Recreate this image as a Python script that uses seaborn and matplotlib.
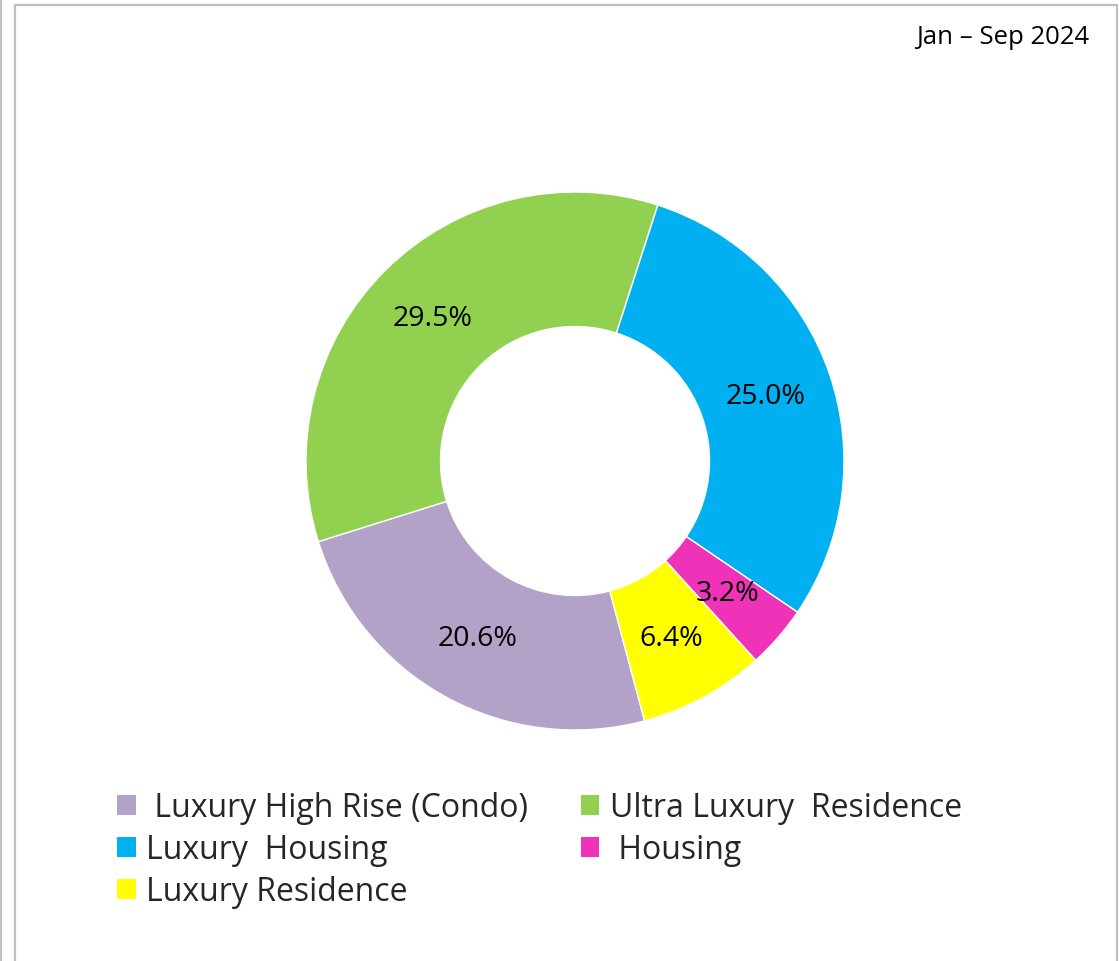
import matplotlib
matplotlib.use("Agg")
import matplotlib.pyplot as plt
from matplotlib.patches import Patch, Rectangle
import seaborn as sns

# Share of sales by segment, Jan - Sep 2024 (values as labelled)
categories = [" Luxury High Rise (Condo)", "Ultra Luxury  Residence",
              "Luxury  Housing", " Housing", "Luxury Residence"]
values = [20.6, 29.5, 25.0, 3.2, 6.4]
colors = ["#B3A2C7", "#92D050", "#00B0F0", "#F032B9", "#FFFF00"]
period_label = "Jan \u2013 Sep 2024"

sns.set_theme(style="white")
plt.rcParams["font.family"] = ["Open Sans", "DejaVu Sans"]

W, H = 1119, 962
fig = plt.figure(figsize=(W / 100, H / 100), dpi=100)
fig.patch.set_facecolor("white")

# chart frame
fig.add_artist(Rectangle((15 / W, -0.01), (1117 - 15) / W, (H - 6) / H + 0.01,
                         transform=fig.transFigure, fill=False,
                         edgecolor="#BFBFBF", linewidth=1.6))
fig.add_artist(plt.Line2D([1 / W, 1 / W], [0, 1], transform=fig.transFigure,
                          color="#BFBFBF", linewidth=1.4))

# donut axes: centre (575, 462) px, radius 269 px
cx, cy, r = 575, 462, 269
ax = fig.add_axes([(cx - r) / W, (H - cy - r) / H, 2 * r / W, 2 * r / H])
wedges, _texts, autotexts = ax.pie(
    values, colors=colors, startangle=-75, counterclock=False,
    radius=1.0, pctdistance=0.75,
    autopct=lambda p: f"{p * sum(values) / 100:.1f}%",
    wedgeprops=dict(width=0.5, edgecolor="white", linewidth=1.0),
    textprops=dict(fontsize=20.5, color="black"))
ax.set_xlim(-1, 1)
ax.set_ylim(-1, 1)
ax.axis("off")

fig.text(1089 / W, 1 - 38 / H, period_label, ha="right", va="center",
         fontsize=18.5, color="black")

# legend: column-wise order gives rows (condo, ultra), (housing, housing), (residence)
order = [0, 2, 4, 1, 3]
handles = [Patch(facecolor=colors[i], edgecolor="none") for i in order]
labels = [categories[i] for i in order]
fig.legend(handles, labels, ncol=2, loc="upper left",
           bbox_to_anchor=(117 / W, 1 - 792 / H), frameon=False,
           fontsize=23, handlelength=0.58, handleheight=0.58,
           handletextpad=0.33, columnspacing=1.65, labelspacing=0.28,
           borderpad=0.0, borderaxespad=0.0)

fig.savefig("out.png", dpi=100, facecolor="white")
